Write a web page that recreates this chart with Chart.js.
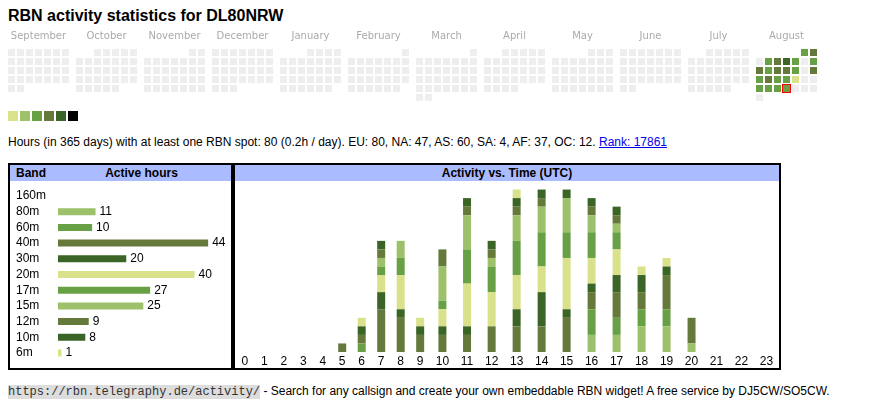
<!DOCTYPE html>
<html>
<head>
<meta charset="utf-8">
<title>RBN activity statistics for DL80NRW</title>
<script src="https://cdn.jsdelivr.net/npm/chart.js@4.4.1/dist/chart.umd.min.js"></script>
<style>
body { margin:0; background:#fff; font-family:"Liberation Sans", Arial, sans-serif; font-size:12px; color:#000; width:870px; height:407px; overflow:hidden; position:relative; }
.abs { position:absolute; }
#title { left:8px; top:7px; font-size:16px; line-height:18px; font-weight:bold; }
#heat { left:0; top:25px; }
#legend { left:8px; top:111px; display:flex; gap:2px; }
#legend span { width:10px; height:10px; }
#summary { left:8px; top:135px; line-height:14px; white-space:nowrap; }
#summary a { color:#00e; }
.panel { top:163px; border:2px solid #000; background:#fff; }
.head { height:16px; line-height:16px; background:#abbbff; font-weight:bold; position:relative; white-space:nowrap; }
.panel canvas { display:block; }
#footer { left:8px; top:384px; line-height:14px; white-space:nowrap; }
#footer code { font-family:"Liberation Mono", "Courier New", monospace; font-size:12px; background:#dddddd; color:#333; }
</style>
</head>
<body>
<div id="title" class="abs">RBN activity statistics for DL80NRW</div>
<canvas id="heat" class="abs" width="830" height="78"></canvas>
<div id="legend" class="abs"></div>
<div id="summary" class="abs">Hours (in 365 days) with at least one RBN spot: 80 (0.2h / day). EU: 80, NA: 47, AS: 60, SA: 4, AF: 37, OC: 12. <a href="#">Rank: 17861</a></div>

<div class="abs panel" style="left:8px; width:221px;">
  <div class="head"><span style="position:absolute; left:6px;">Band</span><span style="position:absolute; left:45px; width:173px; text-align:center;">Active hours</span></div>
  <canvas id="bands" width="221" height="187"></canvas>
</div>
<div class="abs panel" style="left:233px; width:544px;">
  <div class="head" style="text-align:center;">Activity vs. Time (UTC)</div>
  <canvas id="hours" width="544" height="187"></canvas>
</div>

<div id="footer" class="abs"><code>https://rbn.telegraphy.de/activity/</code> - Search for any callsign and create your own embeddable RBN widget! A free service by DJ5CW/SO5CW.</div>

<script>
// calendar: Sept 2025 .. Aug 2026, only August had activity
var months = ['September', 'October', 'November', 'December', 'January', 'February',
              'March', 'April', 'May', 'June', 'July', 'August'];
var firstYear = 2025, firstMonth = 8;
var augustLevels = [3, 4,
                    0, 3, 4, 5, 3, 0, 3,
                    4, 3, 4, 4, 3, 0, 4,
                    3, 4, 3, 3, 1, 0, 0,
                    3, 3, 3, 3, 0, 0, 0,
                    0];
var todayDay = 27;

// active hours per band
var bands = ['160m', '80m', '60m', '40m', '30m', '20m', '17m', '15m', '12m', '10m', '6m'];
var activeHours = [0, 11, 10, 44, 20, 40, 27, 25, 9, 8, 1];

// activity per UTC hour, one array per band
var hours = ['0','1','2','3','4','5','6','7','8','9','10','11','12','13','14','15','16','17','18','19','20','21','22','23'];
var h160 = [0,0,0,0,0,0,0,0,0,0,0,0,0,0,0,0,0,0,0,0,0,0,0,0];
var h80  = [0,0,0,0,0,0,0,0,0,0,0,0,0,0,0,0,2,2,3,3,1,0,0,0];
var h60  = [0,0,0,0,0,0,1,0,0,0,0,0,0,0,0,0,3,2,2,2,0,0,0,0];
var h40  = [0,0,0,0,0,1,1,5,4,2,2,2,3,3,3,4,2,3,2,4,3,0,0,0];
var h30  = [0,0,0,0,0,0,1,2,1,1,1,1,0,2,4,1,1,2,2,1,0,0,0,0];
var h20  = [0,0,0,0,0,0,1,2,4,1,2,5,4,4,3,6,3,3,1,1,0,0,0,0];
var h17  = [0,0,0,0,0,0,0,1,2,0,1,4,3,4,4,3,3,2,0,0,0,0,0,0];
var h15  = [0,0,0,0,0,0,0,1,2,0,4,4,1,3,3,4,2,1,0,0,0,0,0,0];
var h12  = [0,0,0,0,0,0,0,1,0,0,2,1,1,1,1,0,1,1,0,0,0,0,0,0];
var h10  = [0,0,0,0,0,0,0,1,0,0,0,1,1,1,1,1,1,1,0,0,0,0,0,0];
var h6   = [0,0,0,0,0,0,0,0,0,0,0,0,0,1,0,0,0,0,0,0,0,0,0,0];
var bandHours = [h160, h80, h60, h40, h30, h20, h17, h15, h12, h10, h6];

var levelColors = ['#eeeeee', '#d9e18b', '#9dc16b', '#68a045', '#657a3a', '#3b6427', '#000000'];
var bandColors = ['#d9e18b', '#9dc16b', '#68a045', '#657a3a', '#3b6427', '#d9e18b',
                  '#68a045', '#9dc16b', '#657a3a', '#3b6427', '#d9e18b'];
var FONT = '"Liberation Sans", Arial, sans-serif';

// legend squares
var legend = document.getElementById('legend');
levelColors.slice(1).forEach(function (c) {
    var s = document.createElement('span');
    s.style.background = c;
    legend.appendChild(s);
});

/**
 * small square used as point style for one calendar day
 */
function cellStyle(color, outline) {
    var c = document.createElement('canvas');
    var n = outline ? 9 : 7;
    c.width = n; c.height = n;
    var g = c.getContext('2d');
    if (outline) {
        g.fillStyle = outline;
        g.fillRect(0, 0, n, n);
        g.fillStyle = color;
        g.fillRect(1, 1, n - 2, n - 2);
    } else {
        g.fillStyle = color;
        g.fillRect(0, 0, n, n);
    }
    return c;
}

/**
 * position of a day cell: months side by side, weekdays across, weeks down
 */
function cellPos(m, day, offset) {
    var slot = offset + day - 1;
    return { x: 8 + m * 68 + (slot % 7) * 9 + 3.5, y: 4 + Math.floor(slot / 7) * 9 + 3.5 };
}

var cells = levelColors.map(function () { return []; });
var todayCell = [];
months.forEach(function (name, m) {
    var y = firstYear + Math.floor((firstMonth + m) / 12);
    var mo = (firstMonth + m) % 12;
    var days = new Date(y, mo + 1, 0).getDate();
    var offset = (new Date(y, mo, 1).getDay() + 6) % 7;
    var last = m === months.length - 1;
    for (var d = 1; d <= days; d++) {
        var lvl = last ? augustLevels[d - 1] : 0;
        cells[lvl].push(cellPos(m, d, offset));
        if (last && d === todayDay) todayCell.push({ lvl: lvl, p: cellPos(m, d, offset) });
    }
});

var heatSets = cells.map(function (pts, lvl) {
    return { data: pts, pointStyle: cellStyle(levelColors[lvl]), pointRadius: 4, showLine: false };
});
heatSets.push({
    data: todayCell.map(function (t) { return t.p; }),
    pointStyle: cellStyle(levelColors[todayCell[0].lvl], '#ff0000'), pointRadius: 4, showLine: false
});

new Chart(document.getElementById('heat'), {
    type: 'scatter',
    data: { datasets: heatSets },
    options: {
        responsive: false, animation: false, events: [],
        layout: { padding: 0, autoPadding: false },
        plugins: { legend: { display: false }, tooltip: { enabled: false } },
        scales: {
            x: {
                type: 'linear', position: 'top', min: 0, max: 830, offset: false,
                grid: { display: false, drawTicks: false }, border: { display: false },
                ticks: { autoSkip: false, maxRotation: 0, padding: 3, color: '#aaaaaa',
                         font: { family: '"DejaVu Sans", Verdana, sans-serif', size: 10 },
                         callback: function (v, i) { return months[i]; } },
                afterBuildTicks: function (s) {
                    s.ticks = months.map(function (n, i) { return { value: 8 + i * 68 + 30.5 }; });
                },
                afterFit: function (s) { s.height = 20; s.paddingLeft = 0; s.paddingRight = 0; }
            },
            y: { display: false, min: 0, max: 58, reverse: true }
        }
    }
});

// band table
var valueLabels = {
    id: 'valueLabels',
    afterDatasetsDraw: function (chart) {
        var ctx = chart.ctx;
        ctx.save();
        ctx.font = '12px ' + FONT;
        ctx.fillStyle = '#000';
        ctx.textBaseline = 'middle';
        chart.getDatasetMeta(0).data.forEach(function (bar, i) {
            if (activeHours[i] > 0) ctx.fillText(activeHours[i], bar.x + 4, bar.y);
        });
        ctx.restore();
    }
};

new Chart(document.getElementById('bands'), {
    type: 'bar',
    data: { labels: bands, datasets: [{ data: activeHours, backgroundColor: bandColors, barThickness: 7, borderWidth: 0, inflateAmount: 0 }] },
    options: {
        indexAxis: 'y', responsive: false, animation: false, events: [],
        layout: { padding: { left: 6, right: 0, top: 0, bottom: 0 }, autoPadding: false },
        plugins: { legend: { display: false }, tooltip: { enabled: false } },
        scales: {
            x: { display: false, min: 0, max: 50.7 },
            y: {
                grid: { display: false, drawTicks: false }, border: { display: false },
                ticks: { autoSkip: false, crossAlign: 'far', padding: 0, color: '#000', font: { family: FONT, size: 12 } },
                afterFit: function (s) { s.width = 42; }
            }
        }
    },
    plugins: [valueLabels]
});

// hour columns sized like an auto table: label width plus padding, filling the panel
var mctx = document.createElement('canvas').getContext('2d');
mctx.font = '12px ' + FONT;
var colW = hours.map(function (h) { return mctx.measureText(h).width + 17; });
var k = 544 / colW.reduce(function (a, b) { return a + b; }, 0);
var acc = 0;
var hourX = colW.map(function (w) { var c = acc + w * k / 2; acc += w * k; return c; });

new Chart(document.getElementById('hours'), {
    type: 'bar',
    data: {
        datasets: bands.map(function (b, i) {
            return {
                label: b,
                data: bandHours[i].map(function (v, j) { return { x: hourX[j], y: v }; }),
                backgroundColor: bandColors[i], barThickness: 8, borderWidth: 0, inflateAmount: 0
            };
        })
    },
    options: {
        responsive: false, animation: false, events: [],
        layout: { padding: 0, autoPadding: false },
        plugins: { legend: { display: false }, tooltip: { enabled: false } },
        scales: {
            x: {
                type: 'linear', min: 0, max: 544, stacked: true, offset: false,
                grid: { display: false, drawTicks: false, offset: false }, border: { display: false },
                ticks: { autoSkip: false, maxRotation: 0, padding: 2, color: '#000',
                         font: { family: FONT, size: 12 },
                         callback: function (v, i) { return hours[i]; } },
                afterBuildTicks: function (s) {
                    s.ticks = hourX.map(function (v) { return { value: v }; });
                },
                afterFit: function (s) { s.height = 16; s.paddingLeft = 0; s.paddingRight = 0; }
            },
            y: { display: false, min: 0, max: 20, stacked: true }
        }
    }
});
</script>
</body>
</html>
